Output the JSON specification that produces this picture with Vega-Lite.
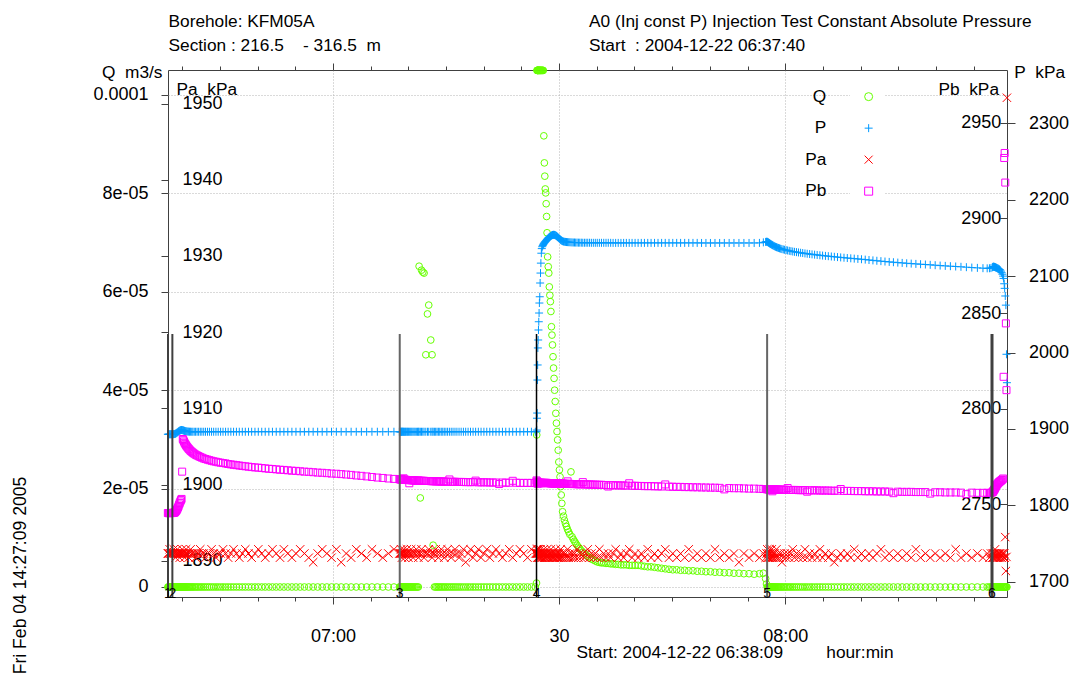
{
  "$schema": "https://vega.github.io/schema/vega-lite/v6.json",
  "width": 839,
  "height": 527,
  "autosize": {"type": "none"},
  "padding": {"left": 168, "top": 70, "right": 64, "bottom": 96},
  "background": "white",
  "config": {
    "font": "Liberation Sans",
    "view": {"stroke": "#404040", "strokeWidth": 1},
    "axis": {
      "labelFont": "Liberation Sans", "labelFontSize": 18, "labelColor": "#000000",
      "titleFont": "Liberation Sans", "titleFontSize": 17.3, "titleFontWeight": "normal", "titleColor": "#000000",
      "domain": false, "tickColor": "#404040", "grid": false
    },
    "legend": {
      "orient": "none", "legendX": 682, "legendY": 8, "padding": 10, "fillColor": "#ffffff",
      "labelFont": "Liberation Sans", "labelFontSize": 17.3, "labelColor": "#000000",
      "labelAlign": "right", "labelOffset": -51, "labelBaseline": "middle",
      "symbolSize": 64, "symbolStrokeWidth": 1, "rowPadding": 13.5
    }
  },
  "datasets": {
    "events": [
      {"t": 38.1, "n": "1"}, {"t": 38.68, "n": "2"}, {"t": 68.85, "n": "3"},
      {"t": 87.0, "n": "4"}, {"t": 117.6, "n": "5"}, {"t": 147.44, "n": "6"}
    ],
    "obs": [
      {"t":38.08,"q":0,"p":1893.0,"pa":1890.95,"pb":2745.4},
      {"t":38.16,"q":0,"p":1893.0,"pa":1890.95,"pb":2745.4},
      {"t":38.24,"q":0,"p":1893.1,"pa":1890.95,"pb":2745.3},
      {"t":38.32,"q":0,"p":1893.0,"pa":1891.5,"pb":2745.4},
      {"t":38.40,"q":0,"p":1893.0,"pa":1890.95,"pb":2745.4},
      {"t":38.48,"q":0,"p":1893.1,"pa":1890.95,"pb":2745.5},
      {"t":38.56,"q":0,"p":1893.0,"pa":1890.95,"pb":2745.4},
      {"t":38.64,"q":0,"p":1893.0,"pa":1890.95,"pb":2745.4},
      {"t":38.70,"q":0,"p":1893.0,"pa":1890.95,"pb":2745.4},
      {"t":38.78,"q":0,"p":1893.1,"pa":1890.95,"pb":2745.5},
      {"t":38.86,"q":0,"p":1893.2,"pa":1891.5,"pb":2745.5},
      {"t":38.94,"q":0,"p":1893.3,"pa":1890.95,"pb":2745.6},
      {"t":39.02,"q":0,"p":1893.5,"pa":1890.95,"pb":2745.8},
      {"t":39.10,"q":0,"p":1893.8,"pa":1890.4,"pb":2746.1},
      {"t":39.18,"q":0,"p":1894.3,"pa":1890.95,"pb":2746.5},
      {"t":39.26,"q":0,"p":1894.9,"pa":1890.95,"pb":2747.0},
      {"t":39.34,"q":0,"p":1895.5,"pa":1891.5,"pb":2747.6},
      {"t":39.42,"q":0,"p":1896.1,"pa":1890.95,"pb":2748.3},
      {"t":39.50,"q":0,"p":1896.7,"pa":1890.95,"pb":2749.0},
      {"t":39.58,"q":0,"p":1897.3,"pa":1890.95,"pb":2749.9},
      {"t":39.66,"q":0,"p":1897.8,"pa":1890.4,"pb":2750.7},
      {"t":39.74,"q":0,"p":1898.2,"pa":1890.95,"pb":2751.5},
      {"t":39.82,"q":0,"p":1898.5,"pa":1890.95,"pb":2752.2},
      {"t":39.90,"q":0,"p":1898.6,"pa":1890.95,"pb":2752.8},
      {"t":39.98,"q":0,"p":1898.5,"pa":1891.5,"pb":2767.1},
      {"t":40.06,"q":0,"p":1898.3,"pa":1890.95,"pb":2784.2},
      {"t":40.14,"q":0,"p":1898.0,"pa":1890.95,"pb":2783.6},
      {"t":40.22,"q":0,"p":1897.7,"pa":1890.95,"pb":2782.9},
      {"t":40.30,"q":0,"p":1897.4,"pa":1890.4,"pb":2782.2},
      {"t":40.40,"q":0,"p":1897.1,"pa":1890.95,"pb":2781.5},
      {"t":40.50,"q":0,"p":1896.9,"pa":1891.5,"pb":2780.9},
      {"t":40.60,"q":0,"p":1896.7,"pa":1890.95,"pb":2780.3},
      {"t":40.72,"q":0,"p":1896.6,"pa":1890.95,"pb":2779.7},
      {"t":40.84,"q":0,"p":1896.5,"pa":1890.4,"pb":2779.1},
      {"t":40.96,"q":0,"p":1896.4,"pa":1890.95,"pb":2778.6},
      {"t":41.10,"q":0,"p":1896.4,"pa":1891.5,"pb":2778.0},
      {"t":41.25,"q":0,"p":1896.3,"pa":1890.95,"pb":2777.5},
      {"t":41.40,"q":0,"p":1896.3,"pa":1890.95,"pb":2777.0},
      {"t":41.58,"q":0,"p":1896.3,"pa":1890.95,"pb":2776.5},
      {"t":41.76,"q":0,"p":1896.3,"pa":1890.4,"pb":2776.0},
      {"t":41.96,"q":0,"p":1896.3,"pa":1890.95,"pb":2775.6},
      {"t":42.16,"q":0,"p":1896.3,"pa":1890.95,"pb":2775.2},
      {"t":42.38,"q":0,"p":1896.3,"pa":1891.5,"pb":2774.8},
      {"t":42.60,"q":0,"p":1896.3,"pa":1890.95,"pb":2774.4},
      {"t":42.84,"q":0,"p":1896.3,"pa":1890.95,"pb":2774.0},
      {"t":43.08,"q":0,"p":1896.3,"pa":1890.4,"pb":2773.7},
      {"t":43.34,"q":0,"p":1896.3,"pa":1890.95,"pb":2773.4},
      {"t":43.60,"q":0,"p":1896.3,"pa":1890.95,"pb":2773.1},
      {"t":43.88,"q":0,"p":1896.3,"pa":1891.5,"pb":2772.8},
      {"t":44.16,"q":0,"p":1896.3,"pa":1890.95,"pb":2772.5},
      {"t":44.46,"q":0,"p":1896.3,"pa":1890.4,"pb":2772.3},
      {"t":44.76,"q":0,"p":1896.3,"pa":1890.95,"pb":2772.0},
      {"t":45.08,"q":0,"p":1896.3,"pa":1890.95,"pb":2771.8},
      {"t":45.40,"q":0,"p":1896.3,"pa":1891.5,"pb":2771.6},
      {"t":45.74,"q":0,"p":1896.3,"pa":1890.95,"pb":2771.4},
      {"t":46.08,"q":0,"p":1896.3,"pa":1890.4,"pb":2771.1},
      {"t":46.44,"q":0,"p":1896.3,"pa":1890.95,"pb":2770.9},
      {"t":46.80,"q":0,"p":1896.3,"pa":1891.5,"pb":2770.7},
      {"t":47.18,"q":0,"p":1896.3,"pa":1890.95,"pb":2770.5},
      {"t":47.56,"q":0,"p":1896.3,"pa":1890.4,"pb":2770.3},
      {"t":47.96,"q":0,"p":1896.3,"pa":1890.95,"pb":2770.1},
      {"t":48.36,"q":0,"p":1896.3,"pa":1891.5,"pb":2769.9},
      {"t":48.78,"q":0,"p":1896.3,"pa":1890.95,"pb":2769.7},
      {"t":49.20,"q":0,"p":1896.3,"pa":1890.4,"pb":2769.5},
      {"t":49.64,"q":0,"p":1896.3,"pa":1890.95,"pb":2769.3},
      {"t":50.08,"q":0,"p":1896.3,"pa":1891.5,"pb":2769.2},
      {"t":50.54,"q":0,"p":1896.3,"pa":1890.95,"pb":2769.0},
      {"t":51.00,"q":0,"p":1896.3,"pa":1890.4,"pb":2768.8},
      {"t":51.48,"q":0,"p":1896.3,"pa":1890.95,"pb":2768.6},
      {"t":51.96,"q":0,"p":1896.3,"pa":1891.5,"pb":2768.5},
      {"t":52.46,"q":0,"p":1896.3,"pa":1890.95,"pb":2768.3},
      {"t":52.96,"q":0,"p":1896.3,"pa":1890.4,"pb":2768.1},
      {"t":53.48,"q":0,"p":1896.3,"pa":1891.5,"pb":2768.0},
      {"t":54.00,"q":0,"p":1896.3,"pa":1890.95,"pb":2767.8},
      {"t":54.54,"q":0,"p":1896.3,"pa":1890.4,"pb":2767.6},
      {"t":55.08,"q":0,"p":1896.3,"pa":1890.95,"pb":2767.5},
      {"t":55.64,"q":0,"p":1896.3,"pa":1891.5,"pb":2767.3},
      {"t":56.20,"q":0,"p":1896.3,"pa":1890.95,"pb":2767.1},
      {"t":56.78,"q":0,"p":1896.3,"pa":1890.4,"pb":2767.0},
      {"t":57.36,"q":0,"p":1896.3,"pa":1889.8,"pb":2766.8},
      {"t":57.96,"q":0,"p":1896.3,"pa":1890.95,"pb":2766.6},
      {"t":58.56,"q":0,"p":1896.3,"pa":1891.5,"pb":2766.5},
      {"t":59.18,"q":0,"p":1896.3,"pa":1890.95,"pb":2766.3},
      {"t":59.80,"q":0,"p":1896.3,"pa":1890.4,"pb":2766.1},
      {"t":60.44,"q":0,"p":1896.3,"pa":1891.5,"pb":2766.0},
      {"t":61.08,"q":0,"p":1896.3,"pa":1889.8,"pb":2765.8},
      {"t":61.74,"q":0,"p":1896.3,"pa":1890.95,"pb":2765.6},
      {"t":62.40,"q":0,"p":1896.3,"pa":1890.4,"pb":2765.4},
      {"t":63.08,"q":0,"p":1896.3,"pa":1891.5,"pb":2765.1},
      {"t":63.76,"q":0,"p":1896.3,"pa":1890.95,"pb":2764.9},
      {"t":64.46,"q":0,"p":1896.3,"pa":1890.4,"pb":2764.6},
      {"t":65.16,"q":0,"p":1896.3,"pa":1891.5,"pb":2764.3},
      {"t":65.88,"q":0,"p":1896.3,"pa":1890.95,"pb":2764.0},
      {"t":66.60,"q":0,"p":1896.3,"pa":1890.4,"pb":2763.8},
      {"t":67.34,"q":0,"p":1896.3,"pa":1890.95,"pb":2763.5},
      {"t":68.08,"q":0,"p":1896.3,"pa":1891.5,"pb":2763.3},
      {"t":68.80,"q":0,"p":1896.3,"pa":1890.95,"pb":2763.1},
      {"t":68.90,"q":0,"p":1896.3,"pa":1890.95,"pb":2763.1},
      {"t":68.96,"q":0,"p":1896.3,"pa":1890.95,"pb":2763.0},
      {"t":69.02,"q":0,"p":1896.2,"pa":1891.5,"pb":2763.1},
      {"t":69.08,"q":0,"p":1896.3,"pa":1890.95,"pb":2763.0},
      {"t":69.14,"q":0,"p":1896.3,"pa":1890.4,"pb":2763.0},
      {"t":69.20,"q":0,"p":1896.4,"pa":1890.95,"pb":2762.9},
      {"t":69.28,"q":0,"p":1896.3,"pa":1890.95,"pb":2762.9},
      {"t":69.36,"q":0,"p":1896.3,"pa":1891.5,"pb":2763.6},
      {"t":69.44,"q":0,"p":1896.3,"pa":1890.95,"pb":2762.9},
      {"t":69.52,"q":0,"p":1896.2,"pa":1890.4,"pb":2762.8},
      {"t":69.60,"q":0,"p":1896.3,"pa":1890.95,"pb":2762.8},
      {"t":69.70,"q":0,"p":1896.3,"pa":1890.95,"pb":2762.8},
      {"t":69.80,"q":0,"p":1896.3,"pa":1891.5,"pb":2762.7},
      {"t":69.90,"q":0,"p":1896.3,"pa":1890.95,"pb":2762.7},
      {"t":70.00,"q":0,"p":1896.3,"pa":1890.4,"pb":2762.7},
      {"t":70.12,"q":0,"p":1896.3,"pa":1890.95,"pb":2761.0},
      {"t":70.24,"q":0,"p":1896.3,"pa":1890.95,"pb":2762.6},
      {"t":70.36,"q":0,"p":1896.3,"pa":1891.5,"pb":2762.6},
      {"t":70.48,"q":0,"p":1896.3,"pa":1890.95,"pb":2762.6},
      {"t":70.62,"q":0,"p":1896.3,"pa":1890.4,"pb":2762.5},
      {"t":70.76,"q":0,"p":1896.3,"pa":1890.95,"pb":2762.5},
      {"t":70.90,"q":0,"p":1896.3,"pa":1890.95,"pb":2762.5},
      {"t":71.05,"q":0,"p":1896.3,"pa":1891.5,"pb":2762.4},
      {"t":71.20,"q":0,"p":1896.3,"pa":1890.95,"pb":2762.4},
      {"t":71.32,"q":0,"p":1896.3,"pa":1890.4,"pb":2762.4},
      {"t":71.42,"q":6.52e-5,"p":1896.3,"pa":1890.95,"pb":2762.4},
      {"t":71.58,"q":1.81e-5,"p":1896.3,"pa":1890.95,"pb":2762.3},
      {"t":71.74,"q":6.44e-5,"p":1896.3,"pa":1891.5,"pb":2762.3},
      {"t":71.91,"q":6.4e-5,"p":1896.3,"pa":1890.95,"pb":2762.3},
      {"t":72.08,"q":6.38e-5,"p":1896.3,"pa":1890.4,"pb":2762.3},
      {"t":72.31,"q":4.72e-5,"p":1896.3,"pa":1890.95,"pb":2762.2},
      {"t":72.53,"q":5.55e-5,"p":1896.3,"pa":1890.95,"pb":2762.2},
      {"t":72.70,"q":5.73e-5,"p":1896.3,"pa":1891.5,"pb":2762.2},
      {"t":72.97,"q":5.02e-5,"p":1896.3,"pa":1890.95,"pb":2762.1},
      {"t":73.14,"q":4.72e-5,"p":1896.3,"pa":1890.4,"pb":2762.1},
      {"t":73.28,"q":8.5e-6,"p":1896.3,"pa":1890.95,"pb":2762.1},
      {"t":73.45,"q":0,"p":1896.3,"pa":1890.95,"pb":2762.1},
      {"t":73.62,"q":0,"p":1896.3,"pa":1891.5,"pb":2762.0},
      {"t":73.80,"q":0,"p":1896.3,"pa":1890.95,"pb":2762.0},
      {"t":73.98,"q":0,"p":1896.3,"pa":1890.4,"pb":2762.0},
      {"t":74.16,"q":0,"p":1896.3,"pa":1890.95,"pb":2762.0},
      {"t":74.36,"q":0,"p":1896.3,"pa":1891.5,"pb":2761.9},
      {"t":74.56,"q":0,"p":1896.3,"pa":1890.95,"pb":2761.9},
      {"t":74.76,"q":0,"p":1896.3,"pa":1890.4,"pb":2761.9},
      {"t":74.98,"q":0,"p":1896.3,"pa":1890.95,"pb":2761.9},
      {"t":75.20,"q":0,"p":1896.3,"pa":1891.5,"pb":2761.8},
      {"t":75.44,"q":0,"p":1896.3,"pa":1890.95,"pb":2763.0},
      {"t":75.68,"q":0,"p":1896.3,"pa":1890.4,"pb":2761.8},
      {"t":75.92,"q":0,"p":1896.3,"pa":1890.95,"pb":2761.8},
      {"t":76.18,"q":0,"p":1896.3,"pa":1891.5,"pb":2761.8},
      {"t":76.44,"q":0,"p":1896.3,"pa":1890.95,"pb":2761.7},
      {"t":76.72,"q":0,"p":1896.3,"pa":1890.4,"pb":2761.7},
      {"t":77.00,"q":0,"p":1896.3,"pa":1890.95,"pb":2761.7},
      {"t":77.30,"q":0,"p":1896.3,"pa":1891.5,"pb":2761.7},
      {"t":77.60,"q":0,"p":1896.3,"pa":1889.8,"pb":2761.6},
      {"t":77.92,"q":0,"p":1896.3,"pa":1890.95,"pb":2761.6},
      {"t":78.24,"q":0,"p":1896.3,"pa":1891.5,"pb":2761.6},
      {"t":78.58,"q":0,"p":1896.3,"pa":1890.4,"pb":2761.6},
      {"t":78.92,"q":0,"p":1896.3,"pa":1890.95,"pb":2762.4},
      {"t":79.28,"q":0,"p":1896.3,"pa":1891.5,"pb":2761.5},
      {"t":79.64,"q":0,"p":1896.3,"pa":1890.4,"pb":2761.5},
      {"t":80.02,"q":0,"p":1896.3,"pa":1890.95,"pb":2761.5},
      {"t":80.40,"q":0,"p":1896.3,"pa":1891.5,"pb":2761.5},
      {"t":80.80,"q":0,"p":1896.3,"pa":1890.4,"pb":2761.4},
      {"t":81.20,"q":0,"p":1896.3,"pa":1890.95,"pb":2761.4},
      {"t":81.62,"q":0,"p":1896.3,"pa":1891.5,"pb":2761.4},
      {"t":82.04,"q":0,"p":1896.3,"pa":1890.95,"pb":2760.6},
      {"t":82.48,"q":0,"p":1896.3,"pa":1890.4,"pb":2761.4},
      {"t":82.92,"q":0,"p":1896.3,"pa":1890.95,"pb":2761.3},
      {"t":83.38,"q":0,"p":1896.3,"pa":1891.5,"pb":2761.3},
      {"t":83.84,"q":0,"p":1896.3,"pa":1890.4,"pb":2762.3},
      {"t":84.32,"q":0,"p":1896.3,"pa":1890.95,"pb":2761.3},
      {"t":84.80,"q":0,"p":1896.3,"pa":1891.5,"pb":2761.2},
      {"t":85.30,"q":0,"p":1896.3,"pa":1890.95,"pb":2761.2},
      {"t":85.80,"q":0,"p":1896.3,"pa":1890.4,"pb":2761.2},
      {"t":86.32,"q":0,"p":1896.3,"pa":1891.5,"pb":2761.2},
      {"t":86.84,"q":0,"p":1896.3,"pa":1890.95,"pb":2761.2},
      {"t":87.00,"q":8e-7,"p":1896.3,"pa":1890.95,"pb":2762.5},
      {"t":87.03,"q":3.09e-5,"p":1898.5,"pa":1891.5,"pb":2761.8},
      {"t":87.06,"q":1.05e-4,"p":1914.0,"pa":1890.95,"pb":2761.0},
      {"t":87.09,"q":1.05e-4,"p":1920.8,"pa":1890.4,"pb":2762.0},
      {"t":87.12,"q":1.05e-4,"p":1964.0,"pa":1890.95,"pb":2761.2},
      {"t":87.15,"q":1.05e-4,"p":1983.7,"pa":1891.5,"pb":2760.8},
      {"t":87.18,"q":1.05e-4,"p":2006.0,"pa":1890.95,"pb":2761.5},
      {"t":87.22,"q":1.05e-4,"p":2016.4,"pa":1890.4,"pb":2761.2},
      {"t":87.26,"q":1.05e-4,"p":2029.5,"pa":1890.95,"pb":2761.0},
      {"t":87.30,"q":1.05e-4,"p":2040.3,"pa":1891.5,"pb":2761.4},
      {"t":87.34,"q":1.05e-4,"p":2051.7,"pa":1890.4,"pb":2761.2},
      {"t":87.38,"q":1.05e-4,"p":2064.8,"pa":1890.95,"pb":2761.0},
      {"t":87.43,"q":1.05e-4,"p":2073.0,"pa":1890.4,"pb":2761.3},
      {"t":87.48,"q":1.05e-4,"p":2091.0,"pa":1890.95,"pb":2761.2},
      {"t":87.53,"q":1.05e-4,"p":2104.0,"pa":1891.5,"pb":2761.1},
      {"t":87.58,"q":1.05e-4,"p":2117.0,"pa":1890.4,"pb":2761.3},
      {"t":87.64,"q":1.05e-4,"p":2130.0,"pa":1890.95,"pb":2761.2},
      {"t":87.70,"q":1.05e-4,"p":2136.0,"pa":1890.4,"pb":2761.0},
      {"t":87.76,"q":1.05e-4,"p":2138.5,"pa":1890.95,"pb":2761.2},
      {"t":87.83,"q":1.05e-4,"p":2140.0,"pa":1890.4,"pb":2761.2},
      {"t":87.90,"q":1.05e-4,"p":2141.5,"pa":1890.95,"pb":2761.1},
      {"t":87.97,"q":9.17e-5,"p":2142.5,"pa":1891.5,"pb":2761.2},
      {"t":88.04,"q":8.62e-5,"p":2143.5,"pa":1890.4,"pb":2761.2},
      {"t":88.10,"q":8.35e-5,"p":2144.3,"pa":1890.95,"pb":2761.1},
      {"t":88.16,"q":8.09e-5,"p":2145.0,"pa":1890.4,"pb":2761.2},
      {"t":88.22,"q":8.01e-5,"p":2145.7,"pa":1890.95,"pb":2761.2},
      {"t":88.28,"q":7.79e-5,"p":2146.4,"pa":1890.4,"pb":2761.1},
      {"t":88.34,"q":7.53e-5,"p":2147.2,"pa":1890.95,"pb":2761.2},
      {"t":88.40,"q":7.2e-5,"p":2148.0,"pa":1891.5,"pb":2761.2},
      {"t":88.48,"q":6.71e-5,"p":2149.0,"pa":1890.4,"pb":2761.1},
      {"t":88.56,"q":6.51e-5,"p":2149.8,"pa":1890.95,"pb":2761.1},
      {"t":88.63,"q":6.38e-5,"p":2150.5,"pa":1890.4,"pb":2761.1},
      {"t":88.70,"q":6.1e-5,"p":2151.2,"pa":1890.95,"pb":2761.1},
      {"t":88.77,"q":5.93e-5,"p":2151.7,"pa":1890.4,"pb":2761.1},
      {"t":88.84,"q":5.8e-5,"p":2152.2,"pa":1890.95,"pb":2761.0},
      {"t":88.91,"q":5.6e-5,"p":2152.7,"pa":1891.5,"pb":2761.0},
      {"t":88.98,"q":5.29e-5,"p":2153.1,"pa":1890.4,"pb":2761.0},
      {"t":89.05,"q":5.12e-5,"p":2153.5,"pa":1890.95,"pb":2761.0},
      {"t":89.12,"q":4.92e-5,"p":2153.8,"pa":1890.4,"pb":2761.0},
      {"t":89.19,"q":4.68e-5,"p":2154.0,"pa":1890.95,"pb":2761.0},
      {"t":89.26,"q":4.45e-5,"p":2154.0,"pa":1890.4,"pb":2761.0},
      {"t":89.33,"q":4.24e-5,"p":2154.0,"pa":1890.95,"pb":2760.9},
      {"t":89.40,"q":4.0e-5,"p":2153.9,"pa":1890.4,"pb":2760.9},
      {"t":89.48,"q":3.77e-5,"p":2153.6,"pa":1890.95,"pb":2760.9},
      {"t":89.56,"q":3.53e-5,"p":2153.2,"pa":1891.5,"pb":2760.9},
      {"t":89.64,"q":3.33e-5,"p":2152.6,"pa":1890.4,"pb":2760.9},
      {"t":89.72,"q":3.16e-5,"p":2152.0,"pa":1890.95,"pb":2760.9},
      {"t":89.80,"q":2.99e-5,"p":2151.3,"pa":1890.4,"pb":2760.9},
      {"t":89.88,"q":2.78e-5,"p":2150.5,"pa":1890.95,"pb":2760.9},
      {"t":89.96,"q":2.54e-5,"p":2149.7,"pa":1890.4,"pb":2760.8},
      {"t":90.04,"q":2.38e-5,"p":2148.9,"pa":1890.95,"pb":2760.8},
      {"t":90.12,"q":2.24e-5,"p":2148.1,"pa":1890.4,"pb":2760.8},
      {"t":90.20,"q":2.04e-5,"p":2147.4,"pa":1891.5,"pb":2760.8},
      {"t":90.28,"q":1.87e-5,"p":2146.8,"pa":1890.4,"pb":2760.8},
      {"t":90.36,"q":1.7e-5,"p":2146.2,"pa":1890.95,"pb":2760.8},
      {"t":90.46,"q":1.53e-5,"p":2145.7,"pa":1890.4,"pb":2760.8},
      {"t":90.58,"q":1.44e-5,"p":2145.3,"pa":1890.95,"pb":2760.8},
      {"t":90.70,"q":1.36e-5,"p":2145.0,"pa":1890.4,"pb":2760.7},
      {"t":90.84,"q":1.29e-5,"p":2144.8,"pa":1890.95,"pb":2760.7},
      {"t":90.98,"q":1.23e-5,"p":2144.6,"pa":1890.4,"pb":2760.7},
      {"t":91.12,"q":1.17e-5,"p":2144.5,"pa":1891.5,"pb":2762.0},
      {"t":91.27,"q":1.12e-5,"p":2144.4,"pa":1890.4,"pb":2760.7},
      {"t":91.42,"q":1.07e-5,"p":2144.3,"pa":1890.95,"pb":2760.7},
      {"t":91.57,"q":2.34e-5,"p":2144.2,"pa":1890.4,"pb":2760.6},
      {"t":91.72,"q":1.02e-5,"p":2144.1,"pa":1890.95,"pb":2760.6},
      {"t":91.88,"q":9.7e-6,"p":2144.0,"pa":1890.4,"pb":2760.6},
      {"t":92.04,"q":9.3e-6,"p":2144.0,"pa":1890.95,"pb":2760.6},
      {"t":92.20,"q":8.9e-6,"p":2143.9,"pa":1890.4,"pb":2760.6},
      {"t":92.38,"q":8.5e-6,"p":2143.9,"pa":1891.5,"pb":2760.5},
      {"t":92.56,"q":8.1e-6,"p":2143.8,"pa":1890.4,"pb":2760.5},
      {"t":92.74,"q":7.8e-6,"p":2143.8,"pa":1890.95,"pb":2760.5},
      {"t":92.94,"q":7.4e-6,"p":2143.8,"pa":1890.4,"pb":2760.5},
      {"t":93.14,"q":7.1e-6,"p":2143.7,"pa":1890.95,"pb":2761.6},
      {"t":93.36,"q":6.8e-6,"p":2143.7,"pa":1890.4,"pb":2760.4},
      {"t":93.58,"q":6.5e-6,"p":2143.7,"pa":1890.95,"pb":2760.4},
      {"t":93.80,"q":6.2e-6,"p":2143.7,"pa":1891.5,"pb":2760.4},
      {"t":94.04,"q":6.0e-6,"p":2143.7,"pa":1890.4,"pb":2760.4},
      {"t":94.28,"q":5.7e-6,"p":2143.6,"pa":1890.95,"pb":2760.3},
      {"t":94.54,"q":5.5e-6,"p":2143.6,"pa":1890.4,"pb":2760.3},
      {"t":94.80,"q":5.3e-6,"p":2143.6,"pa":1890.95,"pb":2760.3},
      {"t":95.06,"q":5.1e-6,"p":2143.6,"pa":1890.4,"pb":2760.2},
      {"t":95.34,"q":5.0e-6,"p":2143.6,"pa":1891.5,"pb":2760.2},
      {"t":95.62,"q":4.9e-6,"p":2143.6,"pa":1890.4,"pb":2760.2},
      {"t":95.92,"q":4.9e-6,"p":2143.6,"pa":1890.95,"pb":2760.1},
      {"t":96.22,"q":4.8e-6,"p":2143.6,"pa":1890.4,"pb":2760.1},
      {"t":96.52,"q":4.8e-6,"p":2143.6,"pa":1890.95,"pb":2759.3},
      {"t":96.84,"q":4.7e-6,"p":2143.6,"pa":1890.4,"pb":2760.0},
      {"t":97.16,"q":4.7e-6,"p":2143.5,"pa":1890.95,"pb":2760.0},
      {"t":97.50,"q":4.6e-6,"p":2143.5,"pa":1891.5,"pb":2759.9},
      {"t":97.84,"q":4.6e-6,"p":2143.5,"pa":1890.4,"pb":2759.9},
      {"t":98.20,"q":4.5e-6,"p":2143.5,"pa":1890.95,"pb":2759.9},
      {"t":98.56,"q":4.5e-6,"p":2143.5,"pa":1890.4,"pb":2759.8},
      {"t":98.92,"q":4.5e-6,"p":2143.5,"pa":1890.95,"pb":2759.8},
      {"t":99.30,"q":4.4e-6,"p":2143.5,"pa":1891.5,"pb":2761.0},
      {"t":99.68,"q":4.4e-6,"p":2143.5,"pa":1890.4,"pb":2759.7},
      {"t":100.08,"q":4.4e-6,"p":2143.5,"pa":1890.95,"pb":2759.7},
      {"t":100.48,"q":4.4e-6,"p":2143.5,"pa":1890.4,"pb":2759.6},
      {"t":100.90,"q":4.3e-6,"p":2143.5,"pa":1890.95,"pb":2759.6},
      {"t":101.32,"q":4.2e-6,"p":2143.5,"pa":1890.4,"pb":2759.5},
      {"t":101.76,"q":4.1e-6,"p":2143.5,"pa":1891.5,"pb":2759.5},
      {"t":102.20,"q":4.1e-6,"p":2143.5,"pa":1890.4,"pb":2759.5},
      {"t":102.66,"q":4.0e-6,"p":2143.5,"pa":1890.95,"pb":2759.4},
      {"t":103.12,"q":3.9e-6,"p":2143.5,"pa":1890.4,"pb":2759.4},
      {"t":103.60,"q":3.8e-6,"p":2143.5,"pa":1890.95,"pb":2759.3},
      {"t":104.08,"q":3.7e-6,"p":2143.5,"pa":1891.5,"pb":2760.4},
      {"t":104.58,"q":3.6e-6,"p":2143.5,"pa":1890.4,"pb":2759.2},
      {"t":105.08,"q":3.5e-6,"p":2143.5,"pa":1890.95,"pb":2759.2},
      {"t":105.60,"q":3.5e-6,"p":2143.5,"pa":1890.4,"pb":2759.1},
      {"t":106.12,"q":3.4e-6,"p":2143.5,"pa":1890.95,"pb":2759.1},
      {"t":106.66,"q":3.4e-6,"p":2143.5,"pa":1890.4,"pb":2759.0},
      {"t":107.20,"q":3.3e-6,"p":2143.5,"pa":1891.5,"pb":2759.0},
      {"t":107.76,"q":3.3e-6,"p":2143.5,"pa":1890.4,"pb":2758.9},
      {"t":108.32,"q":3.2e-6,"p":2143.5,"pa":1890.95,"pb":2758.9},
      {"t":108.90,"q":3.2e-6,"p":2143.4,"pa":1890.4,"pb":2758.8},
      {"t":109.48,"q":3.1e-6,"p":2143.4,"pa":1890.95,"pb":2758.8},
      {"t":110.08,"q":3.1e-6,"p":2143.4,"pa":1890.4,"pb":2758.7},
      {"t":110.68,"q":3.0e-6,"p":2143.4,"pa":1891.5,"pb":2758.7},
      {"t":111.30,"q":3.0e-6,"p":2143.4,"pa":1890.4,"pb":2758.6},
      {"t":111.92,"q":2.9e-6,"p":2143.4,"pa":1890.95,"pb":2757.8},
      {"t":112.56,"q":2.9e-6,"p":2143.4,"pa":1890.4,"pb":2758.5},
      {"t":113.20,"q":2.8e-6,"p":2143.4,"pa":1890.95,"pb":2758.4},
      {"t":113.86,"q":2.8e-6,"p":2143.4,"pa":1889.8,"pb":2758.4},
      {"t":114.52,"q":2.7e-6,"p":2143.4,"pa":1890.95,"pb":2758.3},
      {"t":115.20,"q":2.7e-6,"p":2143.4,"pa":1890.4,"pb":2758.2},
      {"t":115.88,"q":2.6e-6,"p":2143.4,"pa":1890.95,"pb":2758.2},
      {"t":116.58,"q":2.7e-6,"p":2143.5,"pa":1890.4,"pb":2758.1},
      {"t":117.10,"q":2.8e-6,"p":2144.2,"pa":1890.95,"pb":2758.0},
      {"t":117.40,"q":1.7e-6,"p":2144.8,"pa":1890.4,"pb":2758.0},
      {"t":117.52,"q":6e-7,"p":2145.0,"pa":1890.95,"pb":2757.9},
      {"t":117.62,"q":0,"p":2145.0,"pa":1891.5,"pb":2757.9},
      {"t":117.68,"q":0,"p":2144.6,"pa":1890.4,"pb":2757.9},
      {"t":117.74,"q":0,"p":2144.2,"pa":1890.95,"pb":2757.9},
      {"t":117.80,"q":0,"p":2143.8,"pa":1890.4,"pb":2757.8},
      {"t":117.86,"q":0,"p":2143.4,"pa":1890.95,"pb":2757.8},
      {"t":117.92,"q":0,"p":2143.0,"pa":1891.5,"pb":2757.8},
      {"t":117.98,"q":0,"p":2142.6,"pa":1890.4,"pb":2757.8},
      {"t":118.06,"q":0,"p":2142.1,"pa":1890.95,"pb":2757.8},
      {"t":118.14,"q":0,"p":2141.6,"pa":1890.4,"pb":2757.8},
      {"t":118.22,"q":0,"p":2141.1,"pa":1891.5,"pb":2757.8},
      {"t":118.30,"q":0,"p":2140.6,"pa":1890.4,"pb":2756.8},
      {"t":118.40,"q":0,"p":2140.1,"pa":1890.95,"pb":2757.8},
      {"t":118.50,"q":0,"p":2139.5,"pa":1890.4,"pb":2757.7},
      {"t":118.60,"q":0,"p":2139.0,"pa":1890.95,"pb":2757.7},
      {"t":118.72,"q":0,"p":2138.4,"pa":1890.4,"pb":2757.7},
      {"t":118.84,"q":0,"p":2137.9,"pa":1891.5,"pb":2757.7},
      {"t":118.96,"q":0,"p":2137.4,"pa":1890.4,"pb":2757.7},
      {"t":119.10,"q":0,"p":2136.9,"pa":1890.95,"pb":2757.7},
      {"t":119.24,"q":0,"p":2136.4,"pa":1890.4,"pb":2757.7},
      {"t":119.40,"q":0,"p":2135.9,"pa":1890.95,"pb":2757.6},
      {"t":119.56,"q":0,"p":2135.4,"pa":1889.8,"pb":2757.6},
      {"t":119.74,"q":0,"p":2134.9,"pa":1890.4,"pb":2757.6},
      {"t":119.92,"q":0,"p":2134.5,"pa":1890.95,"pb":2757.6},
      {"t":120.12,"q":0,"p":2134.0,"pa":1890.4,"pb":2757.6},
      {"t":120.32,"q":0,"p":2133.6,"pa":1890.95,"pb":2758.5},
      {"t":120.54,"q":0,"p":2133.1,"pa":1890.4,"pb":2757.5},
      {"t":120.76,"q":0,"p":2132.7,"pa":1890.95,"pb":2757.5},
      {"t":121.00,"q":0,"p":2132.2,"pa":1891.5,"pb":2757.5},
      {"t":121.24,"q":0,"p":2131.8,"pa":1890.4,"pb":2757.5},
      {"t":121.50,"q":0,"p":2131.4,"pa":1890.95,"pb":2757.5},
      {"t":121.76,"q":0,"p":2131.0,"pa":1890.4,"pb":2757.4},
      {"t":122.04,"q":0,"p":2130.6,"pa":1890.95,"pb":2757.4},
      {"t":122.32,"q":0,"p":2130.2,"pa":1890.4,"pb":2757.4},
      {"t":122.62,"q":0,"p":2129.7,"pa":1891.5,"pb":2757.4},
      {"t":122.92,"q":0,"p":2129.3,"pa":1890.4,"pb":2756.6},
      {"t":123.24,"q":0,"p":2128.9,"pa":1890.95,"pb":2757.3},
      {"t":123.56,"q":0,"p":2128.5,"pa":1890.4,"pb":2757.3},
      {"t":123.90,"q":0,"p":2128.1,"pa":1890.95,"pb":2757.3},
      {"t":124.24,"q":0,"p":2127.7,"pa":1890.4,"pb":2757.3},
      {"t":124.60,"q":0,"p":2127.3,"pa":1891.5,"pb":2757.2},
      {"t":124.96,"q":0,"p":2126.9,"pa":1890.4,"pb":2757.2},
      {"t":125.34,"q":0,"p":2126.5,"pa":1890.95,"pb":2757.2},
      {"t":125.72,"q":0,"p":2126.1,"pa":1890.4,"pb":2757.2},
      {"t":126.12,"q":0,"p":2125.7,"pa":1890.95,"pb":2757.1},
      {"t":126.52,"q":0,"p":2125.3,"pa":1889.8,"pb":2757.1},
      {"t":126.94,"q":0,"p":2124.9,"pa":1890.4,"pb":2757.1},
      {"t":127.36,"q":0,"p":2124.5,"pa":1890.95,"pb":2758.0},
      {"t":127.80,"q":0,"p":2124.1,"pa":1890.4,"pb":2757.0},
      {"t":128.24,"q":0,"p":2123.7,"pa":1890.95,"pb":2757.0},
      {"t":128.70,"q":0,"p":2123.3,"pa":1890.4,"pb":2757.0},
      {"t":129.16,"q":0,"p":2122.9,"pa":1891.5,"pb":2756.9},
      {"t":129.64,"q":0,"p":2122.5,"pa":1890.4,"pb":2756.9},
      {"t":130.12,"q":0,"p":2122.1,"pa":1890.95,"pb":2756.9},
      {"t":130.62,"q":0,"p":2121.6,"pa":1890.4,"pb":2756.8},
      {"t":131.12,"q":0,"p":2121.1,"pa":1890.95,"pb":2756.8},
      {"t":131.64,"q":0,"p":2120.6,"pa":1890.4,"pb":2756.8},
      {"t":132.16,"q":0,"p":2120.1,"pa":1890.95,"pb":2756.7},
      {"t":132.70,"q":0,"p":2119.6,"pa":1891.5,"pb":2756.7},
      {"t":133.24,"q":0,"p":2119.1,"pa":1890.4,"pb":2756.7},
      {"t":133.80,"q":0,"p":2118.6,"pa":1890.95,"pb":2756.6},
      {"t":134.36,"q":0,"p":2118.2,"pa":1890.4,"pb":2755.8},
      {"t":134.94,"q":0,"p":2117.7,"pa":1890.95,"pb":2756.6},
      {"t":135.52,"q":0,"p":2117.3,"pa":1890.4,"pb":2756.5},
      {"t":136.12,"q":0,"p":2116.8,"pa":1890.95,"pb":2756.5},
      {"t":136.72,"q":0,"p":2116.4,"pa":1890.4,"pb":2756.5},
      {"t":137.34,"q":0,"p":2116.0,"pa":1891.5,"pb":2756.4},
      {"t":137.96,"q":0,"p":2115.6,"pa":1890.4,"pb":2756.4},
      {"t":138.60,"q":0,"p":2115.2,"pa":1890.95,"pb":2756.4},
      {"t":139.24,"q":0,"p":2114.8,"pa":1890.4,"pb":2755.6},
      {"t":139.90,"q":0,"p":2114.3,"pa":1890.95,"pb":2756.3},
      {"t":140.56,"q":0,"p":2113.8,"pa":1890.4,"pb":2756.3},
      {"t":141.24,"q":0,"p":2113.4,"pa":1890.95,"pb":2756.2},
      {"t":141.92,"q":0,"p":2113.0,"pa":1890.4,"pb":2756.2},
      {"t":142.62,"q":0,"p":2112.6,"pa":1891.5,"pb":2756.2},
      {"t":143.32,"q":0,"p":2112.2,"pa":1890.4,"pb":2756.1},
      {"t":144.04,"q":0,"p":2111.7,"pa":1890.95,"pb":2755.3},
      {"t":144.76,"q":0,"p":2111.2,"pa":1890.4,"pb":2756.1},
      {"t":145.50,"q":0,"p":2110.8,"pa":1890.95,"pb":2756.0},
      {"t":146.24,"q":0,"p":2110.4,"pa":1890.4,"pb":2756.0},
      {"t":146.80,"q":0,"p":2110.2,"pa":1890.95,"pb":2756.0},
      {"t":147.10,"q":0,"p":2110.3,"pa":1890.4,"pb":2755.9},
      {"t":147.30,"q":0,"p":2110.5,"pa":1890.95,"pb":2756.0},
      {"t":147.48,"q":0,"p":2111.5,"pa":1890.4,"pb":2756.2},
      {"t":147.54,"q":0,"p":2112.0,"pa":1890.95,"pb":2756.5},
      {"t":147.60,"q":0,"p":2112.3,"pa":1890.4,"pb":2756.8},
      {"t":147.66,"q":0,"p":2112.3,"pa":1890.95,"pb":2757.2},
      {"t":147.72,"q":0,"p":2112.2,"pa":1890.4,"pb":2757.6},
      {"t":147.78,"q":0,"p":2112.0,"pa":1890.95,"pb":2758.0},
      {"t":147.84,"q":0,"p":2111.8,"pa":1891.5,"pb":2758.4},
      {"t":147.90,"q":0,"p":2111.5,"pa":1890.4,"pb":2758.9},
      {"t":147.96,"q":0,"p":2111.2,"pa":1890.95,"pb":2759.4},
      {"t":148.04,"q":0,"p":2110.9,"pa":1890.4,"pb":2759.9},
      {"t":148.12,"q":0,"p":2110.5,"pa":1890.95,"pb":2760.4},
      {"t":148.20,"q":0,"p":2110.1,"pa":1890.4,"pb":2760.8},
      {"t":148.28,"q":0,"p":2109.7,"pa":1890.95,"pb":2761.2},
      {"t":148.36,"q":0,"p":2109.2,"pa":1890.4,"pb":2761.5},
      {"t":148.44,"q":0,"p":2108.6,"pa":1890.95,"pb":2761.8},
      {"t":148.52,"q":0,"p":2108.0,"pa":1890.4,"pb":2762.0},
      {"t":148.62,"q":0,"p":2106.5,"pa":1890.95,"pb":2762.3},
      {"t":148.72,"q":0,"p":2104.5,"pa":1890.4,"pb":2762.7},
      {"t":148.82,"q":0,"p":2102.5,"pa":1890.95,"pb":2763.0},
      {"t":148.92,"q":0,"p":2100.0,"pa":1890.95,"pb":2763.5},
      {"t":148.98,"q":0,"p":2097.0,"pa":1890.4,"pb":2816.8},
      {"t":149.06,"q":0,"p":2090.0,"pa":1890.95,"pb":2931.5},
      {"t":149.12,"q":0,"p":2084.0,"pa":1890.4,"pb":2934.1},
      {"t":149.20,"q":0,"p":2074.0,"pa":1893.1,"pb":2918.6},
      {"t":149.28,"q":0,"p":2062.0,"pa":1888.65,"pb":2844.8},
      {"t":149.36,"q":0,"p":1997.7,"pa":1890.5,"pb":2809.8},
      {"t":149.42,"q":0,"p":1960.5,"pa":1950.76,"pb":null}
    ]
  },
  "resolve": {"scale": {"y": "independent"}, "axis": {"x": "independent", "y": "independent"}},
  "layer": [
    {
      "data": {"name": "obs"},
      "mark": {"type": "point", "filled": false, "size": 45, "strokeWidth": 1, "opacity": 1},
      "encoding": {
        "x": {
          "field": "t", "type": "quantitative",
          "scale": {"domain": [38.1, 149.43], "nice": false, "zero": false},
          "axis": {
            "orient": "bottom", "values": [60, 90, 120], "tickSize": 7, "labelPadding": 23,
            "labelExpr": "datum.value % 60 == 0 ? '0' + (6 + datum.value / 60) + ':00' : '' + (datum.value % 60)",
            "grid": true, "gridColor": "#b4b4b4", "gridDash": [1, 2],
            "title": "Start: 2004-12-22 06:38:09\u00a0\u00a0\u00a0\u00a0\u00a0\u00a0\u00a0\u00a0\u00a0hour:min",
            "titleX": 408, "titleY": 60, "titleAlign": "left", "titleBaseline": "alphabetic"
          }
        },
        "y": {
          "field": "q", "type": "quantitative",
          "scale": {"domain": [-2.033e-6, 1.0508e-4], "nice": false, "zero": false},
          "axis": {
            "orient": "left", "values": [0, 2e-5, 4e-5, 6e-5, 8e-5, 1e-4], "tickSize": 7, "labelPadding": 13,
            "labelExpr": "datum.value == 0 ? '0' : datum.value > 9e-5 ? '0.0001' : round(datum.value * 1e5) + 'e-05'",
            "grid": true, "gridColor": "#b4b4b4", "gridDash": [1, 2],
            "title": "Q\u00a0\u00a0m3/s", "titleAngle": 0, "titleX": -6, "titleY": 2, "titleAlign": "right", "titleBaseline": "middle"
          }
        },
        "color": {"datum": "Q", "type": "nominal", "scale": {"domain": ["Q", "P", "Pa", "Pb"], "range": ["#66ff00", "#0099ff", "#ff0000", "#ff00ff"]}, "legend": {"title": null}},
        "shape": {"datum": "Q", "type": "nominal", "scale": {"domain": ["Q", "P", "Pa", "Pb"], "range": ["circle", "M-1,0H1M0,-1V1", "M-1,-1L1,1M-1,1L1,-1", "square"]}, "legend": {"title": null}}
      }
    },
    {
      "data": {"name": "obs"},
      "mark": {"type": "point", "filled": false, "size": 64, "strokeWidth": 1, "opacity": 1},
      "encoding": {
        "x": {
          "field": "t", "type": "quantitative",
          "scale": {"domain": [38.1, 149.43], "nice": false, "zero": false},
          "axis": {
            "orient": "top", "values": [40, 45, 50, 55, 60, 65, 70, 75, 80, 85, 90, 95, 100, 105, 110, 115, 120, 125, 130, 135, 140, 145],
            "tickSize": 4, "labels": false, "grid": false,
            "title": ["Borehole: KFM05A", "Section : 216.5\u00a0\u00a0\u00a0\u00a0- 316.5\u00a0\u00a0m"],
            "titleX": 0, "titleY": -43.3, "titleAlign": "left", "titleBaseline": "alphabetic", "titleLineHeight": 24.3
          }
        },
        "y": {
          "field": "p", "type": "quantitative",
          "scale": {"domain": [1680, 2369.8], "nice": false, "zero": false},
          "axis": {
            "orient": "right", "values": [1700, 1800, 1900, 2000, 2100, 2200, 2300], "format": "d",
            "tickSize": 8, "labelPadding": 13.5, "labelAlign": "left", "labelBaseline": "middle",
            "title": "P\u00a0\u00a0kPa", "titleAngle": 0, "titleX": 6.7, "titleY": 2, "titleAlign": "left", "titleBaseline": "middle"
          }
        },
        "color": {"datum": "P", "type": "nominal", "scale": {"domain": ["Q", "P", "Pa", "Pb"], "range": ["#66ff00", "#0099ff", "#ff0000", "#ff00ff"]}, "legend": {"title": null}},
        "shape": {"datum": "P", "type": "nominal", "scale": {"domain": ["Q", "P", "Pa", "Pb"], "range": ["circle", "M-1,0H1M0,-1V1", "M-1,-1L1,1M-1,1L1,-1", "square"]}, "legend": {"title": null}}
      }
    },
    {
      "data": {"name": "obs"},
      "mark": {"type": "point", "filled": false, "size": 70, "strokeWidth": 1, "opacity": 1},
      "encoding": {
        "x": {
          "field": "t", "type": "quantitative",
          "scale": {"domain": [38.1, 149.43], "nice": false, "zero": false},
          "axis": {
            "orient": "top", "values": [60, 90, 120], "tickSize": 7, "labels": false, "grid": false,
            "title": ["A0 (Inj const P) Injection Test Constant Absolute Pressure", "Start\u00a0\u00a0: 2004-12-22 06:37:40"],
            "titleX": 420.5, "titleY": -43.3, "titleAlign": "left", "titleBaseline": "alphabetic", "titleLineHeight": 24.3
          }
        },
        "y": {
          "field": "pa", "type": "quantitative",
          "scale": {"domain": [1885.24, 1954.4], "nice": false, "zero": false},
          "axis": {
            "orient": "left", "values": [1890, 1900, 1910, 1920, 1930, 1940, 1950], "format": "d",
            "tickSize": 7, "labelPadding": -21, "labelAlign": "left", "labelBaseline": "middle",
            "title": "Pa\u00a0\u00a0kPa", "titleAngle": 0, "titleX": 8, "titleY": 19, "titleAlign": "left", "titleBaseline": "middle"
          }
        },
        "color": {"datum": "Pa", "type": "nominal", "scale": {"domain": ["Q", "P", "Pa", "Pb"], "range": ["#66ff00", "#0099ff", "#ff0000", "#ff00ff"]}, "legend": {"title": null}},
        "shape": {"datum": "Pa", "type": "nominal", "scale": {"domain": ["Q", "P", "Pa", "Pb"], "range": ["circle", "M-1,0H1M0,-1V1", "M-1,-1L1,1M-1,1L1,-1", "square"]}, "legend": {"title": null}}
      }
    },
    {
      "data": {"name": "obs"},
      "mark": {"type": "point", "filled": false, "size": 49, "strokeWidth": 1, "opacity": 1},
      "encoding": {
        "x": {
          "field": "t", "type": "quantitative",
          "scale": {"domain": [38.1, 149.43], "nice": false, "zero": false},
          "axis": {
            "orient": "bottom", "values": [40, 45, 50, 55, 60, 65, 70, 75, 80, 85, 90, 95, 100, 105, 110, 115, 120, 125, 130, 135, 140, 145],
            "tickSize": 4, "labels": false, "grid": false, "title": null
          }
        },
        "y": {
          "field": "pb", "type": "quantitative",
          "scale": {"domain": [2701.4, 2977.6], "nice": false, "zero": false},
          "axis": {
            "orient": "right", "values": [2750, 2800, 2850, 2900, 2950], "format": "d",
            "tickSize": -7, "labelPadding": 0.7, "labelAlign": "right", "labelBaseline": "middle",
            "title": "Pb\u00a0\u00a0kPa", "titleAngle": 0, "titleX": -8.5, "titleY": 19, "titleAlign": "right", "titleBaseline": "middle"
          }
        },
        "color": {"datum": "Pb", "type": "nominal", "scale": {"domain": ["Q", "P", "Pa", "Pb"], "range": ["#66ff00", "#0099ff", "#ff0000", "#ff00ff"]}, "legend": {"title": null}},
        "shape": {"datum": "Pb", "type": "nominal", "scale": {"domain": ["Q", "P", "Pa", "Pb"], "range": ["circle", "M-1,0H1M0,-1V1", "M-1,-1L1,1M-1,1L1,-1", "square"]}, "legend": {"title": null}}
      }
    },
    {
      "data": {"name": "events"},
      "mark": {"type": "rule"},
      "encoding": {
        "x": {"field": "t", "type": "quantitative", "scale": {"domain": [38.1, 149.43], "nice": false, "zero": false}, "axis": null},
        "y": {
          "datum": 5.142e-5, "type": "quantitative",
          "scale": {"domain": [-2.033e-6, 1.0508e-4], "nice": false, "zero": false},
          "axis": {
            "orient": "left", "ticks": false, "labels": false, "grid": false, "domain": false,
            "title": "Fri Feb 04 14:27:09 2005", "titleFontSize": 17.6, "titleAngle": 270,
            "titleX": -142.8, "titleY": 505, "titleAlign": "center", "titleBaseline": "alphabetic"
          }
        },
        "y2": {"datum": -2.033e-6},
        "color": {
          "condition": [
            {"test": "datum.n == '4'", "value": "#000000"},
            {"test": "datum.n == '3' || datum.n == '5'", "value": "#666666"}
          ],
          "value": "#404040"
        },
        "strokeWidth": {
          "condition": [
            {"test": "datum.n == '6'", "value": 3},
            {"test": "datum.n == '4'", "value": 1.5}
          ],
          "value": 2
        }
      }
    },
    {
      "data": {"name": "events"},
      "mark": {"type": "text", "fontSize": 14, "baseline": "alphabetic", "align": "center", "dy": 1, "color": "#000000"},
      "encoding": {
        "x": {"field": "t", "type": "quantitative", "scale": {"domain": [38.1, 149.43], "nice": false, "zero": false}, "axis": null},
        "y": {"datum": -2.033e-6, "type": "quantitative", "scale": {"domain": [-2.033e-6, 1.0508e-4], "nice": false, "zero": false}, "axis": null},
        "text": {"field": "n"}
      }
    }
  ]
}
